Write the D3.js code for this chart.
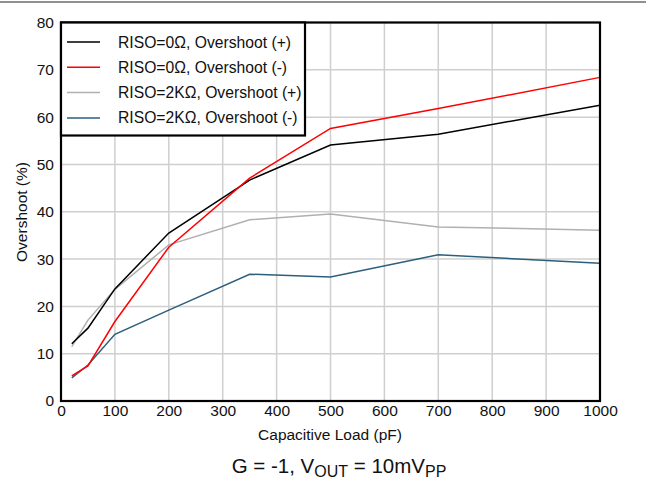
<!DOCTYPE html>
<html><head><meta charset="utf-8">
<script src="https://cdn.jsdelivr.net/npm/d3@7"></script>
<style>body{margin:0;background:#fff;} svg{display:block;font-family:"Liberation Sans",Arial,sans-serif;}</style>
</head><body>
<svg id="c" width="646" height="483"></svg>
<script>
const loads = [20, 50, 100, 200, 350, 500, 700, 1000];
const riso0Pos = [12.1, 15.4, 23.7, 35.5, 46.7, 54.1, 56.4, 62.5];
const riso0Neg = [5.3, 7.4, 16.8, 32.5, 47.1, 57.6, 61.8, 68.4];
const riso2kPos = [11.5, 17.1, 23.6, 33.0, 38.3, 39.5, 36.8, 36.1];
const riso2kNeg = [4.9, 7.6, 14.1, 19.2, 26.8, 26.2, 30.9, 29.1];
const seriesNames = ["RISO=0Ω, Overshoot (+)", "RISO=0Ω, Overshoot (-)", "RISO=2KΩ, Overshoot (+)", "RISO=2KΩ, Overshoot (-)"];
const seriesColors = ["#000000", "#ff0000", "#b0b0b0", "#2b5f7c"];
const xTicks = [0,100,200,300,400,500,600,700,800,900,1000];
const yTicks = [0,10,20,30,40,50,60,70,80];

const svg = d3.select("#c");
const L = 61, R = 600, T = 22.5, B = 401;
const x = d3.scaleLinear().domain([0,1000]).range([L,R]);
const y = d3.scaleLinear().domain([0,80]).range([B,T]);
const FF = "Liberation Sans, Arial, sans-serif";

// top rule
svg.append("line").attr("x1",0).attr("x2",646).attr("y1",2).attr("y2",2).attr("stroke","#222").attr("stroke-width",1.2);

// grid
const g = svg.append("g");
g.selectAll(".vx").data(xTicks).join("line").attr("x1",d=>x(d)).attr("x2",d=>x(d)).attr("y1",T).attr("y2",B)
  .attr("stroke","#cfcfcf").attr("stroke-width",1.5);
g.selectAll(".hy").data(yTicks).join("line").attr("x1",L).attr("x2",R).attr("y1",d=>y(d)).attr("y2",d=>y(d))
  .attr("stroke","#cfcfcf").attr("stroke-width",1.5);

// axes (labels only)
const xa = svg.append("g").attr("transform",`translate(0,${B})`).call(d3.axisBottom(x).tickValues(xTicks).tickSize(0).tickPadding(4).tickFormat(d3.format("d")));
xa.select(".domain").remove();
xa.selectAll("text").attr("font-size",15.5).attr("fill","#111").style("font-family",FF);
const ya = svg.append("g").attr("transform",`translate(${L},0)`).call(d3.axisLeft(y).tickValues(yTicks).tickSize(0).tickPadding(7).tickFormat(d3.format("d")));
ya.select(".domain").remove();
ya.selectAll("text").attr("font-size",15.5).attr("fill","#111").style("font-family",FF);

// series
const all = [riso0Pos, riso0Neg, riso2kPos, riso2kNeg];
const line = d3.line().x((d,i)=>x(loads[i])).y(d=>y(d));
const order = [2,3,0,1];
order.forEach(k=>{
  svg.append("path").datum(all[k]).attr("d",line).attr("fill","none").attr("stroke",seriesColors[k]).attr("stroke-width",1.5);
});

// frame
svg.append("rect").attr("x",L).attr("y",T).attr("width",R-L).attr("height",B-T).attr("fill","none").attr("stroke","#000").attr("stroke-width",2.2);

// legend
const lg = svg.append("g");
lg.append("rect").attr("x",L).attr("y",T).attr("width",244).attr("height",113).attr("fill","#fff").attr("stroke","#000").attr("stroke-width",2.2);
seriesNames.forEach((n,i)=>{
  const yy = 42 + i*25.3;
  lg.append("line").attr("x1",67).attr("x2",100).attr("y1",yy).attr("y2",yy).attr("stroke",seriesColors[i]).attr("stroke-width",1.5);
  lg.append("text").attr("x",118).attr("y",yy+5.5).attr("font-size",15.7).attr("fill","#111").text(n);
});

// axis titles
svg.append("text").attr("x",330).attr("y",440).attr("text-anchor","middle").attr("font-size",15.5).attr("fill","#111").text("Capacitive Load (pF)");
svg.append("text").attr("transform","translate(27,212) rotate(-90)").attr("text-anchor","middle").attr("font-size",15.5).attr("fill","#111").text("Overshoot (%)");

// caption
const cap = svg.append("text").attr("x",339).attr("y",473).attr("text-anchor","middle").attr("font-size",20.5).attr("fill","#111");
cap.append("tspan").text("G = -1, V");
cap.append("tspan").attr("font-size",16).attr("dy",3.5).text("OUT");
cap.append("tspan").attr("dy",-3.5).text(" = 10mV");
cap.append("tspan").attr("font-size",16).attr("dy",3.5).text("PP");
</script>
</body></html>
